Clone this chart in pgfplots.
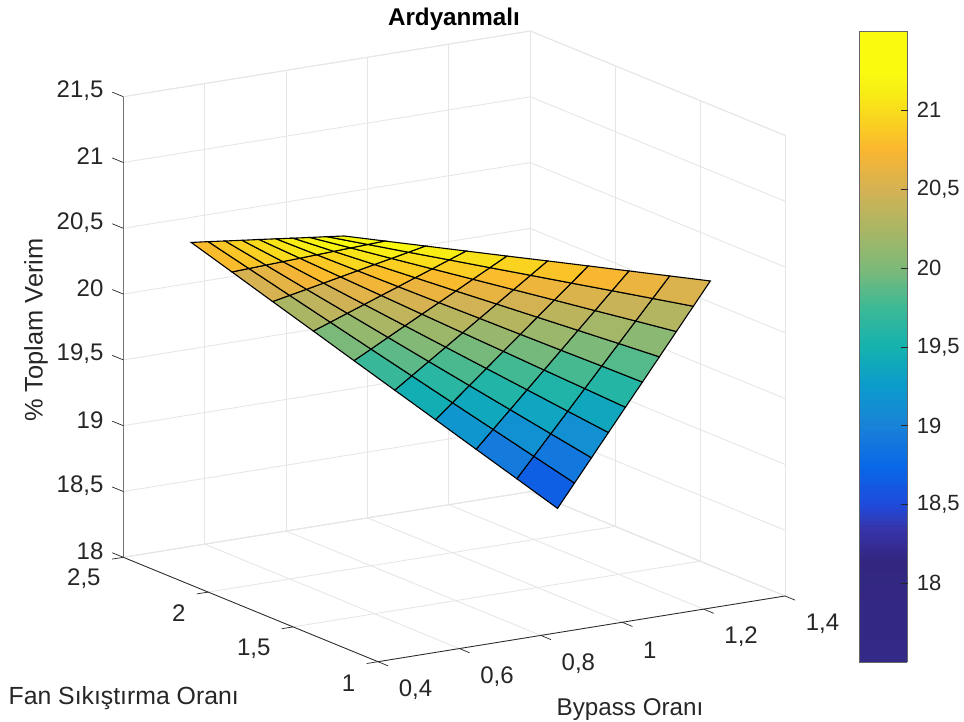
\documentclass[border=0pt]{standalone}
\usepackage{fontspec}
\setmainfont{Liberation Sans}
\usepackage{pgfplots}
\usepackage{pgfplotstable}
\pgfplotsset{compat=1.18}
\definecolor{axdark}{RGB}{38,38,38}
\definecolor{gridc}{RGB}{230,230,230}
\pgfplotstableread{
x y z
0.4 1.2 21.129
0.5 1.2 21.041
0.6 1.2 20.953
0.7 1.2 20.865
0.8 1.2 20.777
0.9 1.2 20.690
1.0 1.2 20.602
1.1 1.2 20.514
1.2 1.2 20.426
1.3 1.2 20.338
0.4 1.3 21.071
0.5 1.3 20.962
0.6 1.3 20.853
0.7 1.3 20.745
0.8 1.3 20.636
0.9 1.3 20.528
1.0 1.3 20.419
1.1 1.3 20.311
1.2 1.3 20.202
1.3 1.3 20.093
0.4 1.4 21.012
0.5 1.4 20.883
0.6 1.4 20.753
0.7 1.4 20.624
0.8 1.4 20.495
0.9 1.4 20.366
1.0 1.4 20.237
1.1 1.4 20.107
1.2 1.4 19.978
1.3 1.4 19.848
0.4 1.5 20.954
0.5 1.5 20.804
0.6 1.5 20.654
0.7 1.5 20.504
0.8 1.5 20.353
0.9 1.5 20.204
1.0 1.5 20.054
1.1 1.5 19.904
1.2 1.5 19.754
1.3 1.5 19.603
0.4 1.6 20.896
0.5 1.6 20.725
0.6 1.6 20.554
0.7 1.6 20.383
0.8 1.6 20.212
0.9 1.6 20.042
1.0 1.6 19.871
1.1 1.6 19.700
1.2 1.6 19.530
1.3 1.6 19.358
0.4 1.7 20.838
0.5 1.7 20.646
0.6 1.7 20.454
0.7 1.7 20.263
0.8 1.7 20.071
0.9 1.7 19.880
1.0 1.7 19.689
1.1 1.7 19.497
1.2 1.7 19.306
1.3 1.7 19.114
0.4 1.8 20.779
0.5 1.8 20.567
0.6 1.8 20.354
0.7 1.8 20.142
0.8 1.8 19.930
0.9 1.8 19.718
1.0 1.8 19.506
1.1 1.8 19.294
1.2 1.8 19.081
1.3 1.8 18.869
0.4 1.9 20.721
0.5 1.9 20.488
0.6 1.9 20.254
0.7 1.9 20.022
0.8 1.9 19.789
0.9 1.9 19.556
1.0 1.9 19.323
1.1 1.9 19.090
1.2 1.9 18.857
1.3 1.9 18.624
0.4 2.0 20.663
0.5 2.0 20.409
0.6 2.0 20.155
0.7 2.0 19.901
0.8 2.0 19.647
0.9 2.0 19.394
1.0 2.0 19.140
1.1 2.0 18.887
1.2 2.0 18.633
1.3 2.0 18.379
0.4 2.1 20.604
0.5 2.1 20.330
0.6 2.1 20.055
0.7 2.1 19.781
0.8 2.1 19.506
0.9 2.1 19.232
1.0 2.1 18.958
1.1 2.1 18.683
1.2 2.1 18.409
1.3 2.1 18.134
}\surfdata
\begin{document}
\begin{tikzpicture}
\useasboundingbox (0,0) rectangle (964pt,722pt);
\begin{axis}[
  at={(378pt,60.3pt)}, anchor=origin,
  clip=false,
  x={(407pt,65.7pt)}, y={(-169.8pt,69.6pt)}, z={(0pt,131.6pt)},
  xmin=0.4,xmax=1.4,ymin=1,ymax=2.5,zmin=18,zmax=21.5,
  xtick={0.4,0.6,0.8,1,1.2,1.4},
  ytick={1,1.5,2,2.5},
  ztick={18,18.5,19,19.5,20,20.5,21,21.5},
  /pgf/number format/use comma,
  /pgf/number format/fixed,
  /pgf/number format/1000 sep={},
  /pgf/number format/assume math mode=true,
  scaled ticks=false,
  grid=major,
  grid style={gridc,line width=0.9pt},
  axis line style={gridc,line width=0.9pt},
  tick style={draw=none},
  tick align=outside,
  major tick length=9pt,
  xticklabel style={font=\fontsize{24}{28}\selectfont,text=axdark,anchor=west,xshift=9pt,yshift=-24.5pt},
  yticklabel style={font=\fontsize{24}{28}\selectfont,text=axdark,anchor=east,xshift=-10.3pt,yshift=-20pt},
  zticklabel style={font=\fontsize{24}{28}\selectfont,text=axdark,anchor=east,xshift=-8pt,yshift=2.5pt},
  colormap={bar}{rgb255(0pt)=(52,42,135); rgb255(65pt)=(50,38,128); rgb255(85pt)=(55,52,170);
    rgb255(100pt)=(30,75,220); rgb255(125pt)=(8,105,232); rgb255(150pt)=(25,130,215);
    rgb255(175pt)=(12,155,205); rgb255(200pt)=(20,178,175); rgb255(225pt)=(60,185,150);
    rgb255(250pt)=(125,185,120); rgb255(275pt)=(170,182,100); rgb255(300pt)=(212,178,84);
    rgb255(325pt)=(250,182,48); rgb255(340pt)=(250,205,35); rgb255(360pt)=(248,235,22);
    rgb255(375pt)=(250,250,15); rgb255(400pt)=(250,250,15)},
  point meta min=17.5, point meta max=21.5,
  colorbar sampled,
  colorbar style={
    samples=161,
    at={(parent axis.north east)}, anchor=north west, xshift=65.8pt, yshift=-0.5pt,
    width=48pt, height=630.5pt,
    axis on top=true,
    ytick={18,18.5,19,19.5,20,20.5,21},
    axis line style={draw=black!60,line width=0.8pt},
    yticklabel style={font=\fontsize{22}{26}\selectfont,text=axdark,xshift=6pt},
    /pgf/number format/use comma,
    /pgf/number format/fixed,
    /pgf/number format/1000 sep={},
    /pgf/number format/assume math mode=true,
  },
  title={\textbf{Ardyanmalı}},
  title style={at={(axis cs:0.4,1,18)},anchor=center,xshift=76pt,yshift=636.7pt,font=\fontsize{24.2}{28}\selectfont,text=black},
  xlabel={Bypass Oranı},
  xlabel style={at={(axis cs:0.4,1,18)},anchor=center,xshift=252pt,yshift=-47.5pt,font=\fontsize{24.2}{28}\selectfont,text=axdark},
  ylabel={Fan Sıkıştırma Oranı},
  ylabel style={at={(axis cs:0.4,1,18)},anchor=center,xshift=-254.3pt,yshift=-36.5pt,font=\fontsize{24.8}{28}\selectfont,text=axdark},
  zlabel={\% Toplam Verim},
  zlabel style={at={(axis cs:0.4,1,18)},anchor=center,xshift=331.7pt,yshift=342pt,font=\fontsize{25.4}{28}\selectfont,text=axdark},
]
\addplot3[surf, shader=faceted, faceted color=black, line width=1.1pt, mesh/rows=10, mesh/cols=10,
  point meta={z+0.28}] table[x=x,y=y,z=z] {\surfdata};
\draw[black!55,line width=1.1pt] (axis cs:0.4,2.5,21.5) -- (axis cs:0.4,2.5,18);
\draw[axdark,line width=0.8pt] (axis cs:0.4,2.5,18) -- (axis cs:0.4,1,18) -- (axis cs:1.4,1,18);
\pgfplotsinvokeforeach{0.4,0.6,0.8,1,1.2,1.4}{\draw[axdark,line width=0.7pt] (axis cs:#1,1,18) -- (axis cs:#1,0.94,18);}
\pgfplotsinvokeforeach{1,1.5,2,2.5}{\draw[axdark,line width=0.7pt] (axis cs:0.4,#1,18) -- (axis cs:0.372,#1,18);}
\pgfplotsinvokeforeach{18,18.5,19,19.5,20,20.5,21,21.5}{\draw[axdark,line width=0.7pt] (axis cs:0.4,2.5,#1) -- (axis cs:0.4,2.565,#1);}
\end{axis}
\foreach \v in {611.3,532.7,453.3,374.7,296.3,217.3,138.7} {
  \draw[axdark,line width=0.7pt] (908pt,\v pt) -- (901pt,\v pt);
}
\end{tikzpicture}
\end{document}
